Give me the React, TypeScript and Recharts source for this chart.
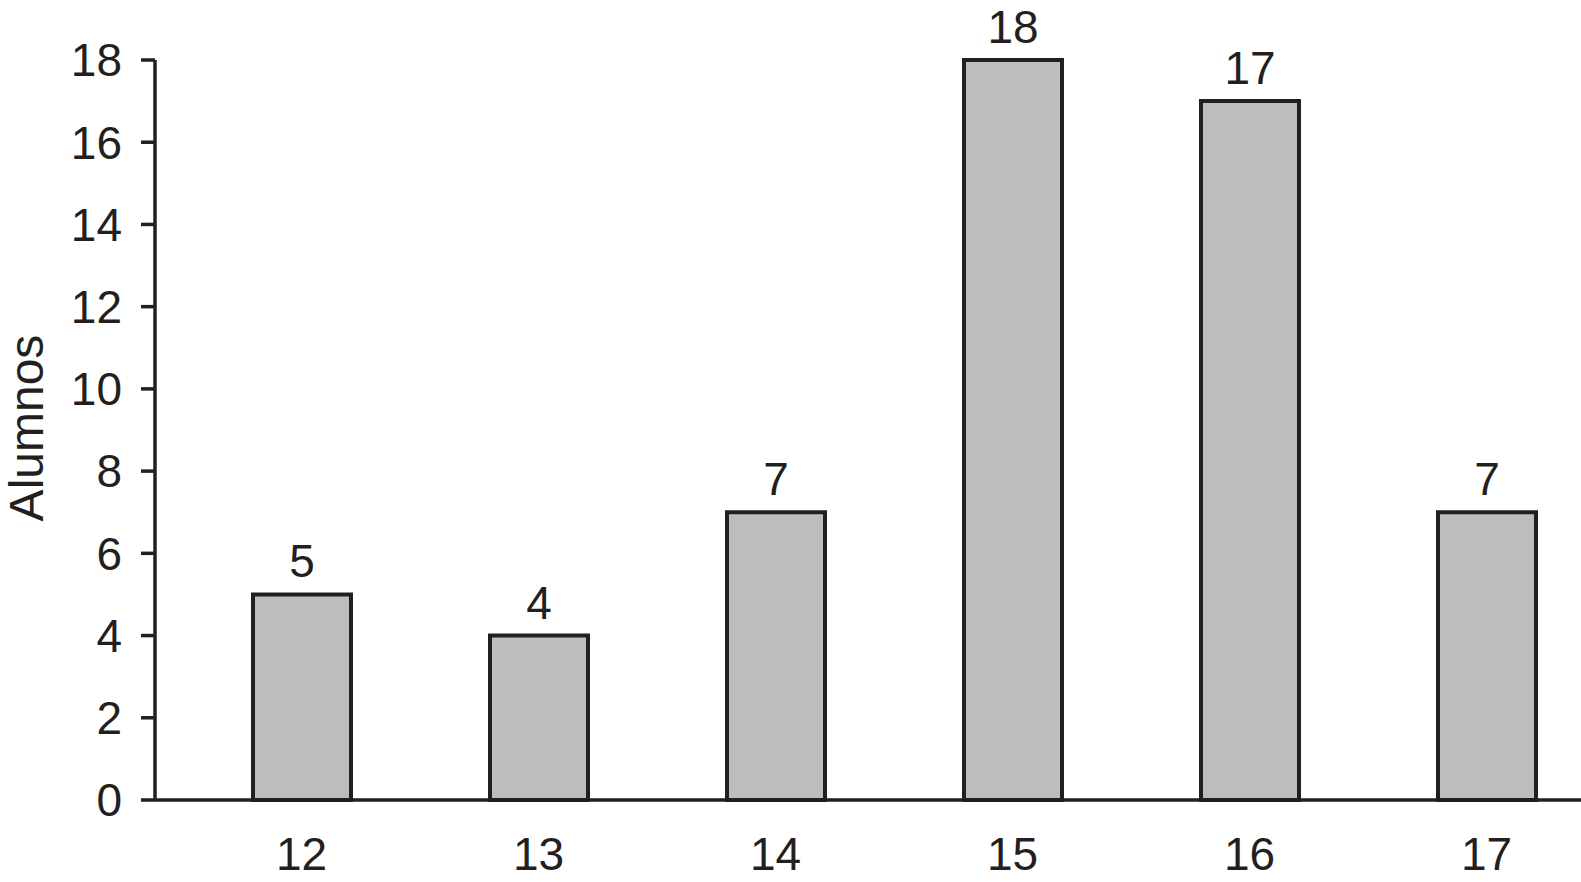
import React from 'react';
import { BarChart, Bar, XAxis, YAxis, LabelList } from 'recharts';

const edades = ['12', '13', '14', '15', '16', '17'];
const alumnos = [5, 4, 7, 18, 17, 7];
const yTicks = [0, 2, 4, 6, 8, 10, 12, 14, 16, 18];

const data = edades.map((e, i) => ({ edad: e, alumnos: alumnos[i] }));

const INK = '#231f20';
const FONT = '"Liberation Sans", Arial, Helvetica, sans-serif';

const YLabel = (props: any) => {
  const vb = props.viewBox || {};
  const cy = (vb.y || 0) + (vb.height || 0) / 2 - 2;
  const cx = 26;
  return (
    <text
      x={0}
      y={0}
      transform={`translate(${cx},${cy}) rotate(-90)`}
      textAnchor="middle"
      dominantBaseline="central"
      fill={INK}
      fontSize={48}
      fontFamily={FONT}
    >
      Alumnos
    </text>
  );
};

export default function App() {
  return (
    <div
      style={{
        position: 'absolute',
        left: 0,
        top: 0,
        width: 1581,
        height: 882,
        overflow: 'hidden',
        background: '#fff',
      }}
    >
      <BarChart
        width={1633}
        height={882}
        data={data}
        margin={{ top: 60, right: 0, bottom: 0, left: 0 }}
        barSize={98}
      >
        <XAxis
          dataKey="edad"
          height={82}
          padding={{ left: 28, right: 28 }}
          tickLine={false}
          tickSize={0}
          tickMargin={37}
          axisLine={{ stroke: INK, strokeWidth: 3.5 }}
          tick={{ fill: INK, fontSize: 46, fontFamily: FONT }}
        />
        <YAxis
          width={155}
          domain={[0, 18]}
          ticks={yTicks}
          interval={0}
          tickSize={14}
          tickMargin={19}
          axisLine={{ stroke: INK, strokeWidth: 3.5 }}
          tickLine={{ stroke: INK, strokeWidth: 3.5 }}
          tick={{ fill: INK, fontSize: 46, fontFamily: FONT }}
          label={<YLabel />}
        />
        <Bar
          dataKey="alumnos"
          fill="#bcbdbf"
          stroke={INK}
          strokeWidth={4}
          isAnimationActive={false}
        >
          <LabelList
            dataKey="alumnos"
            position="top"
            offset={17}
            fill={INK}
            fontSize={46}
            fontFamily={FONT}
          />
        </Bar>
      </BarChart>
    </div>
  );
}
